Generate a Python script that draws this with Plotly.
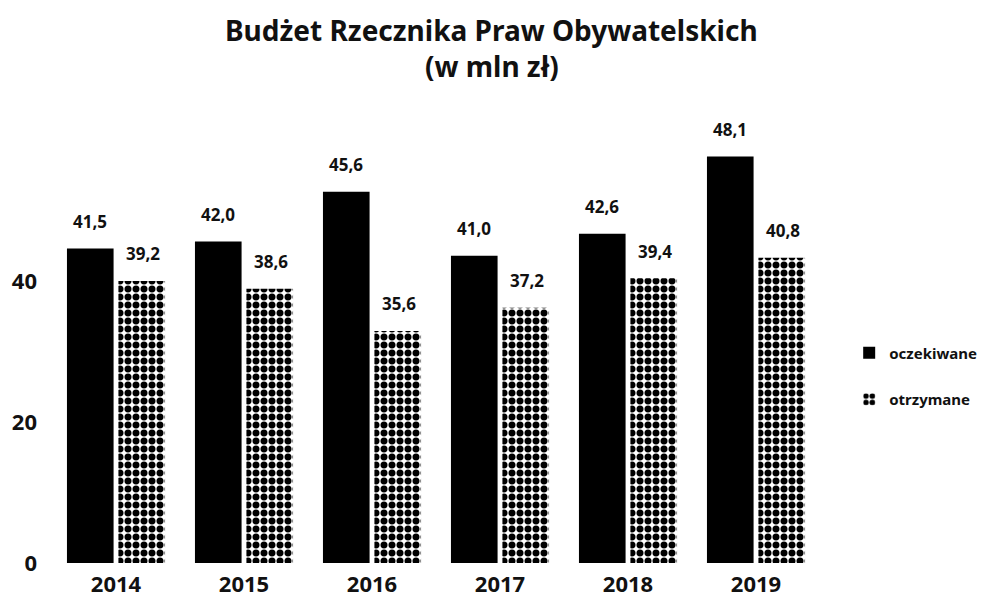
import plotly.graph_objects as go

years = ["2014", "2015", "2016", "2017", "2018", "2019"]
# bar heights as drawn in the picture (y-axis units)
expected_heights = [44.7, 45.7, 52.8, 43.7, 46.8, 57.8]
received_heights = [40.1, 39.0, 33.0, 36.3, 40.5, 43.4]
# value labels printed above the bars
expected_labels = ["41,5", "42,0", "45,6", "41,0", "42,6", "48,1"]
received_labels = ["39,2", "38,6", "35,6", "37,2", "39,4", "40,8"]
y_ticks = [0, 20, 40]
title_lines = ["Budżet Rzecznika Praw Obywatelskich", "(w mln zł)"]

FONT = "Noto Sans"

fig = go.Figure()
fig.add_trace(go.Bar(
    x=years, y=expected_heights, name="oczekiwane",
    marker=dict(color="black", line=dict(width=0)),
    legendgroup="a",
))
fig.add_trace(go.Bar(
    x=years, y=received_heights, name="otrzymane",
    marker=dict(color="white", line=dict(width=0),
                pattern=dict(shape=".", fgcolor="black", bgcolor="white", fgopacity=1,
                             size=8, solidity=0.6, fillmode="overlay")),
    legendgroup="b",
))

# annotations on a category axis: x is the category index
for i, yr in enumerate(years):
    fig.add_annotation(x=i, y=expected_heights[i], text="<b>%s</b>" % expected_labels[i],
                       showarrow=False, xshift=-26.5, yshift=27, yanchor="middle",
                       font=dict(family=FONT, size=17, color="#111"))
    fig.add_annotation(x=i, y=received_heights[i], text="<b>%s</b>" % received_labels[i],
                       showarrow=False, xshift=26.5, yshift=27, yanchor="middle",
                       font=dict(family=FONT, size=17, color="#111"))

for txt, yy in zip(title_lines, [1.263, 1.178]):
    fig.add_annotation(xref="paper", yref="paper", x=0.5727, y=yy, text="<b>%s</b>" % txt,
                       showarrow=False, xanchor="center", yanchor="middle",
                       font=dict(family=FONT, size=28, color="#111"))

fig.update_layout(
    width=994, height=593,
    margin=dict(l=52, r=151, t=141, b=30),
    paper_bgcolor="white", plot_bgcolor="white",
    barmode="group", bargap=0.196, bargroupgap=0.094,
    font=dict(family=FONT, color="#111"),
    showlegend=True,
    legend=dict(x=1.038, xanchor="left", y=0.443, yanchor="middle",
                traceorder="grouped", tracegroupgap=24,
                font=dict(family=FONT, size=15, color="#111", weight="bold")),
    xaxis=dict(type="category", range=[-0.5, 5.5], showgrid=False, showline=False,
               zeroline=False, ticks="", automargin=False,
               tickfont=dict(family=FONT, size=22, color="#111", weight="bold"),
               ticklabelstandoff=6),
    yaxis=dict(range=[0, 60], tickvals=y_ticks, showgrid=False, showline=False,
               zeroline=False, ticks="", automargin=False,
               tickfont=dict(family=FONT, size=22, color="#111", weight="bold"),
               ticklabelstandoff=14),
)

fig.write_html("out.html", config={"displayModeBar": False},
               post_script="document.body.style.margin='0';document.body.style.overflow='hidden';")
